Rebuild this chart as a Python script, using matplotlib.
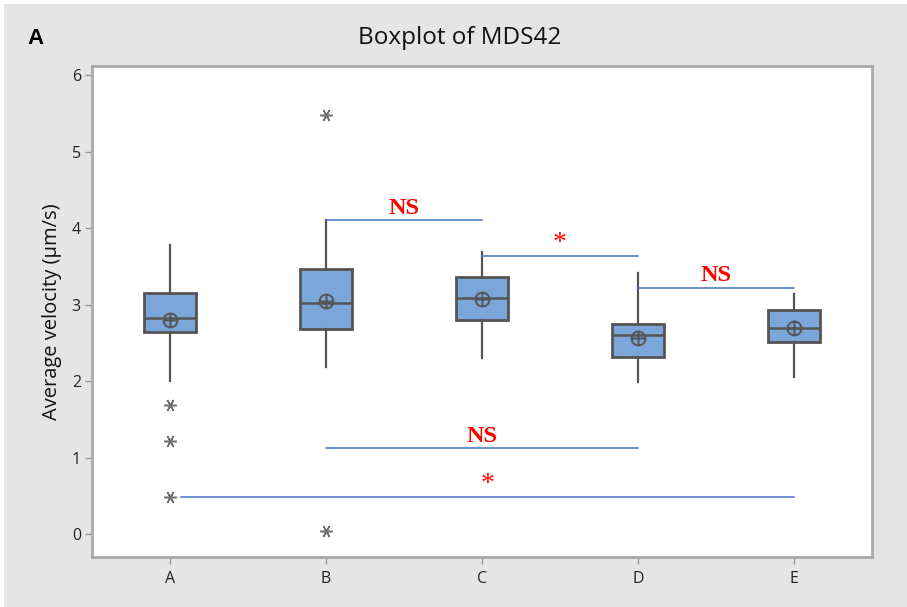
import matplotlib
matplotlib.use("Agg")
import matplotlib.pyplot as plt
from matplotlib.path import Path
from matplotlib.patches import Rectangle

# Group labels and five-number summaries (µm/s)
groups = ["A", "B", "C", "D", "E"]
q1 = [2.64, 2.68, 2.80, 2.32, 2.51]
medians = [2.82, 3.02, 3.09, 2.60, 2.70]
q3 = [3.15, 3.46, 3.36, 2.75, 2.93]
whisker_low = [2.00, 2.18, 2.30, 1.99, 2.06]
whisker_high = [3.78, 4.10, 3.69, 3.41, 3.14]
means = [2.80, 3.05, 3.07, 2.57, 2.70]
outliers = [[1.69, 1.22, 0.48], [5.48, 0.04], [], [], []]

# Pairwise comparisons: (from group index, to group index, height, label)
comparisons = [
    (1.00, 2.00, 4.10, "NS"),
    (2.00, 3.00, 3.63, "*"),
    (3.00, 4.00, 3.22, "NS"),
    (1.00, 3.00, 1.12, "NS"),
    (0.07, 4.00, 0.48, "*"),
]

W, H = 907, 607
fig = plt.figure(figsize=(W / 100, H / 100), dpi=100, facecolor="white")
fig.patches.append(Rectangle((4 / W, 0), 903 / W, 603 / H,
                             transform=fig.transFigure, facecolor="#e5e5e5",
                             edgecolor="none", zorder=-10))

ax = fig.add_axes([92 / W, 1 - 557 / H, 780 / W, 491 / H])
ax.set_facecolor("white")

stats = []
for i, g in enumerate(groups):
    stats.append(dict(label=g, q1=q1[i], med=medians[i], q3=q3[i],
                      whislo=whisker_low[i], whishi=whisker_high[i],
                      mean=means[i], fliers=outliers[i]))

# circle-with-cross marker for the mean
circ = Path.unit_circle()
hline = Path([[-1, 0], [1, 0]], [Path.MOVETO, Path.LINETO])
vline = Path([[0, -1], [0, 1]], [Path.MOVETO, Path.LINETO])
mean_marker = Path.make_compound_path(circ, hline, vline)

asterisk = (6, 2, 90)
edge = "#555555"
ax.bxp(stats, positions=range(1, 6), widths=0.33, patch_artist=True,
       showcaps=False, showmeans=True,
       boxprops=dict(facecolor="#7aa6d9", edgecolor=edge, linewidth=2.0),
       medianprops=dict(color=edge, linewidth=1.8),
       whiskerprops=dict(color=edge, linewidth=1.6),
       meanprops=dict(marker=mean_marker, markerfacecolor="none",
                      markeredgecolor=edge, markersize=10, markeredgewidth=1.4),
       flierprops=dict(marker=asterisk, markeredgecolor="#707070",
                       markersize=9, markeredgewidth=1.1))

# significance brackets
for x0, x1, y, lab in comparisons:
    ax.plot([x0 + 1, x1 + 1], [y, y], color="#4472c4", linewidth=1.1, zorder=3)
    xm = (x0 + x1) / 2 + 1
    if lab == "NS":
        ax.text(xm, y + 0.02, lab, color="red", fontsize=17.5, fontweight="bold",
                family="Liberation Serif", ha="center", va="bottom")
    else:
        ax.text(xm, y + 0.17, lab, color="red", fontsize=20,
                family="Liberation Serif", ha="center", va="center")

ax.set_xlim(0.5, 5.5)
ax.set_ylim(-0.30, 6.12)
ax.set_yticks(range(0, 7))
ax.set_xticks(range(1, 6))
ax.set_xticklabels(groups)
ax.tick_params(colors="#222222", labelsize=11.5, length=5, width=1,
               color="#999999")
for lab in ax.get_xticklabels() + ax.get_yticklabels():
    lab.set_family("Open Sans")
ax.tick_params(axis="x", pad=5)
ax.tick_params(axis="y", pad=3)
for s in ax.spines.values():
    s.set_color("#aaaaaa")
    s.set_linewidth(2.0)

ax.set_ylabel("Average velocity (µm/s)", fontsize=14.5, family="Open Sans",
              color="#111111", labelpad=7)

fig.text(460 / W, 1 - 38 / H, "Boxplot of MDS42", fontsize=17.5,
         family="Open Sans", color="#111111", ha="center", va="center")
fig.text(35 / W, 1 - 38 / H, "A", fontsize=16, fontweight="bold",
         family="Liberation Sans", color="black", ha="center", va="center")

fig.savefig("out.png", dpi=100, facecolor=fig.get_facecolor())
